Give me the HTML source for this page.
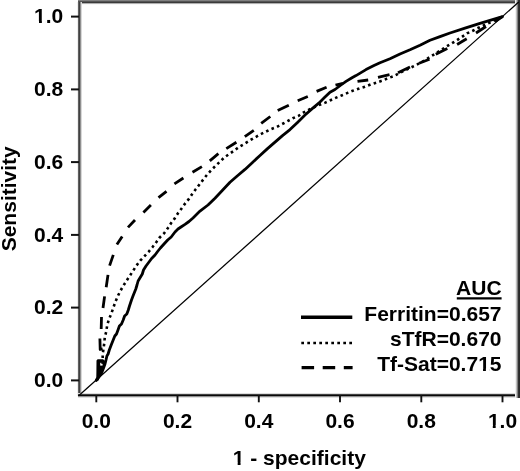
<!DOCTYPE html>
<html><head><meta charset="utf-8"><style>
html,body{margin:0;padding:0;background:#fff;width:520px;height:471px;overflow:hidden;}
svg{display:block;font-family:"Liberation Sans",sans-serif;filter:grayscale(1);}
</style></head><body>
<svg width="520" height="471" viewBox="0 0 520 471">
<rect width="520" height="471" fill="#fff"/>
<rect x="78" y="0" width="442" height="1" fill="#808080"/>
<rect x="78" y="1" width="442" height="1" fill="#555555"/>
<rect x="78" y="2" width="442" height="1" fill="#3a3a3a"/>
<rect x="78" y="3" width="442" height="1" fill="#afafaf"/>
<rect x="78" y="4" width="442" height="1" fill="#f8f8f8"/>
<rect x="77" y="2" width="1" height="394" fill="#eeeeee"/>
<rect x="78" y="2" width="1" height="394" fill="#606060"/>
<rect x="79" y="2" width="1" height="394" fill="#404040"/>
<rect x="80" y="2" width="1" height="394" fill="#909090"/>
<rect x="81" y="2" width="1" height="394" fill="#d8d8d8"/>
<rect x="78" y="393" width="442" height="1" fill="#dcdcdc"/>
<rect x="78" y="394" width="442" height="1" fill="#404040"/>
<rect x="78" y="395" width="442" height="1" fill="#080808"/>
<rect x="78" y="396" width="442" height="1" fill="#909090"/>
<rect x="78" y="397" width="442" height="1" fill="#e0e0e0"/>
<rect x="515" y="0" width="1" height="398" fill="#f0f0f0"/>
<rect x="516" y="0" width="1" height="398" fill="#c0c0c0"/>
<rect x="517" y="0" width="1" height="398" fill="#808080"/>
<rect x="518" y="0" width="1" height="398" fill="#323232"/>
<rect x="519" y="0" width="1" height="398" fill="#2a2a2a"/>
<line x1="79.5" y1="395" x2="518.7" y2="2" stroke="#000" stroke-width="1.25"/>
<line x1="71" y1="380.4" x2="79" y2="380.4" stroke="#111" stroke-width="2"/>
<text x="63.3" y="387.2" text-anchor="end" font-size="21" font-family="'Liberation Sans', sans-serif" font-weight="bold">0.0</text>
<line x1="96.3" y1="395" x2="96.3" y2="402.3" stroke="#111" stroke-width="1.9"/>
<text x="96.3" y="427.5" text-anchor="middle" font-size="21" font-family="'Liberation Sans', sans-serif" font-weight="bold">0.0</text>
<line x1="71" y1="307.6" x2="79" y2="307.6" stroke="#111" stroke-width="2"/>
<text x="63.3" y="314.4" text-anchor="end" font-size="21" font-family="'Liberation Sans', sans-serif" font-weight="bold">0.2</text>
<line x1="177.5" y1="395" x2="177.5" y2="402.3" stroke="#111" stroke-width="1.9"/>
<text x="177.5" y="427.5" text-anchor="middle" font-size="21" font-family="'Liberation Sans', sans-serif" font-weight="bold">0.2</text>
<line x1="71" y1="234.9" x2="79" y2="234.9" stroke="#111" stroke-width="2"/>
<text x="63.3" y="241.7" text-anchor="end" font-size="21" font-family="'Liberation Sans', sans-serif" font-weight="bold">0.4</text>
<line x1="258.8" y1="395" x2="258.8" y2="402.3" stroke="#111" stroke-width="1.9"/>
<text x="258.8" y="427.5" text-anchor="middle" font-size="21" font-family="'Liberation Sans', sans-serif" font-weight="bold">0.4</text>
<line x1="71" y1="162.1" x2="79" y2="162.1" stroke="#111" stroke-width="2"/>
<text x="63.3" y="168.9" text-anchor="end" font-size="21" font-family="'Liberation Sans', sans-serif" font-weight="bold">0.6</text>
<line x1="340.0" y1="395" x2="340.0" y2="402.3" stroke="#111" stroke-width="1.9"/>
<text x="340.0" y="427.5" text-anchor="middle" font-size="21" font-family="'Liberation Sans', sans-serif" font-weight="bold">0.6</text>
<line x1="71" y1="89.4" x2="79" y2="89.4" stroke="#111" stroke-width="2"/>
<text x="63.3" y="96.2" text-anchor="end" font-size="21" font-family="'Liberation Sans', sans-serif" font-weight="bold">0.8</text>
<line x1="421.3" y1="395" x2="421.3" y2="402.3" stroke="#111" stroke-width="1.9"/>
<text x="421.3" y="427.5" text-anchor="middle" font-size="21" font-family="'Liberation Sans', sans-serif" font-weight="bold">0.8</text>
<line x1="71" y1="16.6" x2="79" y2="16.6" stroke="#111" stroke-width="2"/>
<text x="63.3" y="23.4" text-anchor="end" font-size="21" font-family="'Liberation Sans', sans-serif" font-weight="bold">1.0</text>
<line x1="502.5" y1="395" x2="502.5" y2="402.3" stroke="#111" stroke-width="1.9"/>
<text x="502.5" y="427.5" text-anchor="middle" font-size="21" font-family="'Liberation Sans', sans-serif" font-weight="bold">1.0</text>
<text x="299.3" y="465" text-anchor="middle" font-size="21" font-family="'Liberation Sans', sans-serif" font-weight="bold">1 - specificity</text>
<text transform="translate(16,198.8) rotate(-90)" text-anchor="middle" font-size="21" font-family="'Liberation Sans', sans-serif" font-weight="bold">Sensitivity</text>
<path d="M96.2 380.6 L96.4 372 L96.5 360.6 L97.6 359.3 L103 359.3 L104.6 360.4 L105.4 362.5 L104.3 366.5 L102.8 370.5 L100.8 374.5 L98.6 380.6 Z" fill="#000"/>
<rect x="100.2" y="362.8" width="2.4" height="2.8" fill="#fff"/>
<path d="M96.3 380.4 L99.3 376.5 L101.6 373.0 L103.1 369.2 L105.0 364.0 L106.0 360.0 L106.9 356.0 L108.1 354.0 L109.3 350.0 L111.2 345.0 L113.2 340.0 L114.8 336.0 L116.5 334.0 L118.0 330.0 L119.4 326.0 L121.5 324.0 L123.2 320.0 L124.6 316.0 L126.8 314.0 L128.3 310.0 L129.5 306.0 L131.5 300.0 L133.0 296.0 L135.8 289.0 L137.0 285.0 L138.1 281.0 L142.3 274.0 L143.5 270.0 L146.0 266.0 L149.0 262.0 L151.6 258.5 L155.0 255.0 L157.6 251.5 L160.4 248.0 L164.0 244.0 L167.7 240.0 L171.2 237.0 L175.0 232.0 L178.0 229.0 L181.0 227.0 L185.0 224.4 L189.0 221.5 L193.0 218.0 L200.0 211.1 L208.0 205.0 L215.0 198.2 L222.5 190.3 L230.0 182.3 L237.5 175.7 L245.0 169.4 L252.5 162.4 L260.0 155.4 L267.5 148.6 L275.0 142.1 L282.5 135.6 L290.0 129.6 L297.5 122.4 L305.0 115.0 L312.5 108.4 L320.0 102.1 L325.0 97.0 L330.0 92.2 L335.0 89.5 L341.0 85.0 L346.0 81.4 L352.0 77.8 L356.0 75.6 L361.0 72.6 L366.0 69.6 L370.0 67.6 L374.0 65.6 L380.0 62.8 L390.0 58.8 L400.0 54.0 L410.0 49.8 L420.0 45.2 L430.0 40.3 L440.0 36.6 L450.0 33.0 L465.0 28.1 L480.0 23.3 L490.0 20.4 L502.5 16.6" fill="none" stroke="#000" stroke-width="2.8" stroke-linejoin="round" stroke-linecap="round"/>
<path d="M96.3 380.4 L98.6 375.0 L100.6 370.0 L102.4 366.0 L102.8 360.0 L102.6 354.9 L103.5 348.8 L104.3 343.0 L104.8 337.2 L106.3 331.5 L107.2 325.1 L108.9 319.5 L111.3 313.6 L113.3 307.8 L115.3 302.1 L117.7 296.4 L120.2 291.2 L123.2 286.0 L126.5 280.8 L129.7 276.0 L133.1 270.8 L136.6 265.4 L140.2 260.7 L144.5 256.2 L148.6 251.8 L152.6 247.0 L156.1 242.5 L159.5 237.7 L164.2 233.2 L167.6 228.4 L171.0 223.2 L174.7 218.4 L177.8 213.5 L181.4 208.7 L185.2 203.4 L189.1 198.6 L192.4 193.8 L195.9 189.0 L199.7 184.2 L203.2 179.6 L207.2 174.5 L211.3 170.1 L215.8 165.6 L220.2 161.5 L224.3 157.4 L229.1 154.1 L234.3 150.5 L239.1 146.9 L244.3 143.9 L249.5 140.6 L254.7 137.6 L260.2 134.5 L265.5 131.8 L271.0 129.1 L276.8 126.9 L282.2 124.0 L287.6 121.1 L292.8 118.3 L298.2 116.1 L303.3 112.6 L311.0 108.6 L319.6 104.8 L325.3 102.6 L331.0 100.0 L336.8 97.4 L342.2 95.2 L348.2 92.6 L353.7 90.4 L359.7 88.4 L365.0 86.8 L370.9 84.4 L376.9 82.5 L382.4 80.6 L388.0 78.2 L393.6 76.2 L404.0 70.8 L415.3 65.5 L423.8 61.0 L431.7 55.9 L441.2 50.0 L446.0 46.8 L451.4 43.6 L456.5 40.4 L461.9 36.9 L467.0 33.4 L472.4 31.0 L477.0 28.5 L483.0 25.8 L490.5 22.3 L496.8 19.2 L502.5 16.6" fill="none" stroke="#000" stroke-width="2.6" stroke-dasharray="2.6 3.3"/>
<path d="M102.6 349.0 L100.2 349.4 L99.9 338.5 M101.2 329.0 L101.5 317.0 M103.0 308.0 L104.6 296.4 M106.2 287.3 L108.0 274.9 M109.6 265.6 L113.3 254.9 M116.9 244.4 L122.2 236.4 M128.0 227.4 L135.0 220.0 M143.4 212.5 L150.9 205.1 M158.5 197.7 L166.5 191.3 M174.4 183.9 L183.4 178.0 M192.5 172.2 L201.9 166.6 M209.8 160.8 L218.4 153.7 M226.3 148.6 L236.4 142.2 M244.8 136.6 L253.8 130.3 M261.2 123.4 L270.3 116.5 M277.7 110.6 L288.8 105.3 M297.7 100.7 L307.8 96.5 M316.6 91.4 L326.6 87.2 M335.5 85.2 L343.0 83.3 M357.5 81.4 L368.2 80.0 M378.0 77.3 L389.5 74.7 M398.0 72.8 L410.0 66.9 M419.1 63.3 L429.5 59.2 M435.8 54.3 L447.3 48.6 M457.1 44.5 L466.7 38.8 M476.0 33.0 L486.0 26.5 M495.0 21.5 L502.5 16.6" fill="none" stroke="#000" stroke-width="2.8" stroke-linejoin="round"/>
<text x="501.6" y="294.8" text-anchor="end" font-size="21" font-family="'Liberation Sans', sans-serif" font-weight="bold">AUC</text>
<line x1="456.8" y1="298.4" x2="501.6" y2="298.4" stroke="#000" stroke-width="2.3"/>
<text x="501.5" y="320.5" text-anchor="end" font-size="21" font-family="'Liberation Sans', sans-serif" font-weight="bold">Ferritin=0.657</text>
<text x="501.5" y="345.5" text-anchor="end" font-size="21" font-family="'Liberation Sans', sans-serif" font-weight="bold">sTfR=0.670</text>
<text x="501.5" y="370.8" text-anchor="end" font-size="21" font-family="'Liberation Sans', sans-serif" font-weight="bold">Tf-Sat=0.715</text>
<line x1="301" y1="317.3" x2="352.3" y2="317.3" stroke="#000" stroke-width="3.5"/>
<line x1="301.3" y1="343" x2="352.3" y2="343" stroke="#000" stroke-width="2.7" stroke-dasharray="2.7 3.3"/>
<line x1="301.6" y1="367.6" x2="352.6" y2="367.6" stroke="#000" stroke-width="3.2" stroke-dasharray="12.5 8.6"/>
<rect x="35.00" y="21.00" width="4.00" height="3.0" fill="#fff"/>
<rect x="41.88" y="21.00" width="3.80" height="3.0" fill="#fff"/>
<rect x="488.80" y="425.10" width="4.00" height="3.0" fill="#fff"/>
<rect x="495.68" y="425.10" width="3.80" height="3.0" fill="#fff"/>
<rect x="233.67" y="462.60" width="4.00" height="3.0" fill="#fff"/>
<rect x="240.55" y="462.60" width="3.80" height="3.0" fill="#fff"/>
<rect x="479.02" y="368.40" width="4.00" height="3.0" fill="#fff"/>
<rect x="485.90" y="368.40" width="3.80" height="3.0" fill="#fff"/>
</svg>
</body></html>
